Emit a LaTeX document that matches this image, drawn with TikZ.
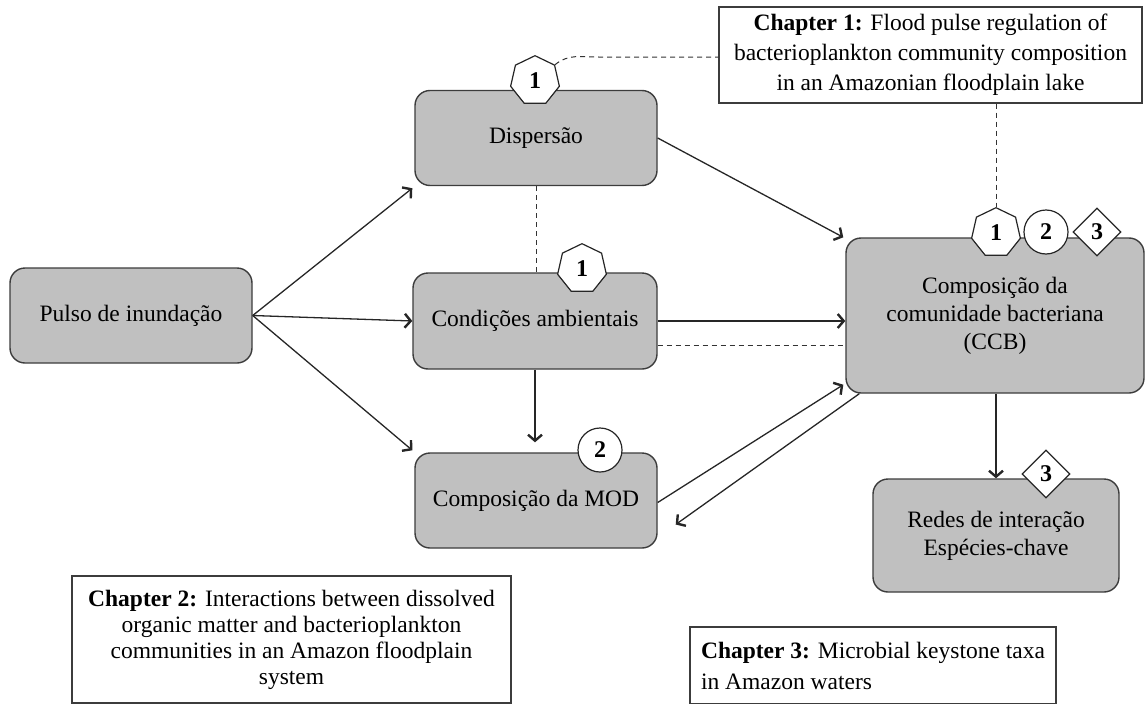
\documentclass[tikz,border=0pt]{standalone}
\usepackage{fontspec}
\setmainfont{Liberation Serif}
\usetikzlibrary{shapes.geometric,arrows.meta,calc}
\definecolor{boxgray}{HTML}{C0C0C0}
\definecolor{bordergray}{HTML}{3C3C3C}
\begin{document}
\begin{tikzpicture}[x=1pt,y=-1pt,
  font=\fontsize{23.5}{28}\selectfont,
  box/.style={draw=bordergray, line width=1.4pt, fill=boxgray, rounded corners=15pt, align=center, inner sep=0pt},
  chap/.style={draw=bordergray, line width=1.2pt, fill=white, inner sep=0pt},
  badge/.style={draw=black!85, line width=1.2pt, fill=white, inner sep=0pt, font=\fontsize{24}{28}\selectfont\bfseries},
  hept/.style={badge, regular polygon, regular polygon sides=7, minimum size=50pt},
  circ/.style={badge, circle, minimum size=44pt},
  diam/.style={badge, diamond, minimum width=48pt, minimum height=48pt},
  arr/.style={line width=1.3pt, draw=black!85, -{Straight Barb[length=6pt,width=14pt,line width=2.4pt]}},
  dline/.style={draw=black!80, line width=1pt, dash pattern=on 5pt off 4pt}
]
\useasboundingbox (0,0) rectangle (1146,704);

% main boxes
\node[box, minimum width=242pt, minimum height=95pt] (pulso) at (131,315.5) {Pulso de inundação};
\node[box, minimum width=242pt, minimum height=95pt] (disp) at (536,138) {Dispersão};
\node[box, minimum width=244pt, minimum height=96pt] (cond) at (535,321) {Condições ambientais};
\node[box, minimum width=242pt, minimum height=95pt] (mod) at (536,500.5) {Composição da MOD};
\node[box, minimum width=298pt, minimum height=155pt] (ccb) at (995,315.5) {Composição da\\comunidade bacteriana\\(CCB)};
\node[box, minimum width=246pt, minimum height=113pt] (redes) at (996,535.5) {Redes de interação\\Espécies-chave};

% chapter boxes
\node[chap, minimum width=423pt, minimum height=96pt, align=center, font=\fontsize{23.5}{30}\selectfont] (ch1) at (930.5,55)
  {\textbf{Chapter 1:} Flood pulse regulation of\\bacterioplankton community composition\\in an Amazonian floodplain lake};
\node[chap, minimum width=439pt, minimum height=127pt, align=center, font=\fontsize{23.5}{26}\selectfont] (ch2) at (291.5,639.5)
  {\textbf{Chapter 2:} Interactions between dissolved\\organic matter and bacterioplankton\\communities in an Amazon floodplain\\system};
\node[chap, minimum width=366pt, minimum height=77pt, align=left, font=\fontsize{23.5}{31}\selectfont] (ch3) at (873,665.5)
  {\textbf{Chapter 3:} Microbial keystone taxa\\in Amazon waters};

% badges
\node[hept] (h1) at (535,80.7) {1};
\node[hept] (h2) at (582,268.7) {1};
\node[hept] (h3) at (996,232.7) {1};
\node[circ] (c1) at (1046,232) {2};
\node[diam] (d1) at (1097,232) {3};
\node[circ] (c2) at (600,450) {2};
\node[diam] (d2) at (1046,474) {3};

% dashed links
\draw[dline] (h1.corner 7) to[out=40,in=180] ($(ch1.west)+(-120,2)$) -- ($(ch1.west)+(0,2)$);
\draw[dline] (h3.north |- ch1.south) -- (h3.north);
\draw[dline] (disp.south) -- (cond.north -| disp.south);
\draw[dline] ([yshift=-24pt]cond.east) -- ([yshift=-24pt]cond.east -| ccb.west);

% arrows
\draw[arr] (pulso.east) -- ([shift={(-2pt,-2pt)}]disp.south west);
\draw[arr] (pulso.east) -- (cond.west);
\draw[arr] (pulso.east) -- ([shift={(-2pt,2pt)}]mod.north west);
\draw[arr] (disp.east) -- ([shift={(-2pt,0pt)}]ccb.north west);
\draw[arr] (cond.east) -- (cond.east -| ccb.west);
\draw[arr] (cond.south) -- ([yshift=10pt]mod.north -| cond.south);
\draw[arr] ([yshift=-2pt]mod.east) -- ([shift={(-2pt,9pt)}]ccb.south west);
\draw[arr] ([xshift=14pt]ccb.south west) -- ([shift={(18pt,-24pt)}]mod.east);
\draw[arr] (ccb.south -| redes.north) -- (redes.north);
\end{tikzpicture}
\end{document}
